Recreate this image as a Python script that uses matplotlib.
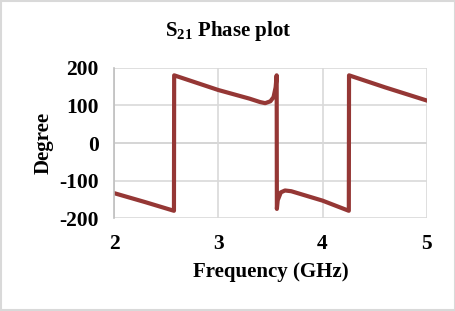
import matplotlib.pyplot as plt
from matplotlib.patches import Rectangle

# S21 phase data
freq = [2.0, 2.3, 2.575, 2.577, 3.0, 3.3, 3.4, 3.45, 3.5, 3.53, 3.55, 3.56,
        3.562, 3.57, 3.6, 3.64, 3.7, 4.0, 4.252, 4.254, 4.6, 5.0]
phase = [-133, -157, -180, 180, 141, 118, 109, 106, 111, 122, 148, 180,
         -175, -152, -131, -126, -128, -153, -180, 180, 148, 113]

plt.rcParams['font.family'] = ['Liberation Serif', 'DejaVu Serif']
plt.rcParams['font.weight'] = 'bold'
plt.rcParams['axes.unicode_minus'] = False
plt.rcParams['mathtext.fontset'] = 'custom'
plt.rcParams['mathtext.rm'] = 'Liberation Serif:bold'
plt.rcParams['mathtext.bf'] = 'Liberation Serif:bold'

fig = plt.figure(figsize=(4.56, 3.11), dpi=100)
ax = fig.add_axes([0.25, 0.298, 0.686, 0.484])

ax.plot(freq, phase, color='#953735', linewidth=3.0, solid_joinstyle='round')

ax.set_xlim(2, 5)
ax.set_ylim(-200, 200)
ax.set_xticks([2, 3, 4, 5])
ax.set_yticks([-200, -100, 0, 100, 200])
ax.grid(True, color='#d9d9d9', linewidth=1.2)
ax.set_axisbelow(True)
ax.axhline(0, color='#bfbfbf', linewidth=1.2, zorder=0.5)
for s in ['top', 'right', 'bottom']:
    ax.spines[s].set_visible(False)
ax.spines['left'].set_color('#bfbfbf')
ax.spines['left'].set_linewidth(1.2)
ax.tick_params(length=0, labelsize=15.5)
ax.tick_params(axis='x', pad=11)
ax.tick_params(axis='y', pad=11)

ax.set_xlabel('Frequency (GHz)', fontsize=15, fontweight='bold', labelpad=6)
ax.set_ylabel('Degree', fontsize=15, fontweight='bold', labelpad=4)
fig.text(0.5, 0.9, r'S$_{\mathbf{21}}$ Phase plot', ha='center', va='center',
         fontsize=15, fontweight='bold')

fig.patches.append(Rectangle((0.002, 0.003), 0.996, 0.994, transform=fig.transFigure,
                             fill=False, edgecolor='#d9d9d9', linewidth=1.5))

plt.savefig('out.png', dpi=100)
